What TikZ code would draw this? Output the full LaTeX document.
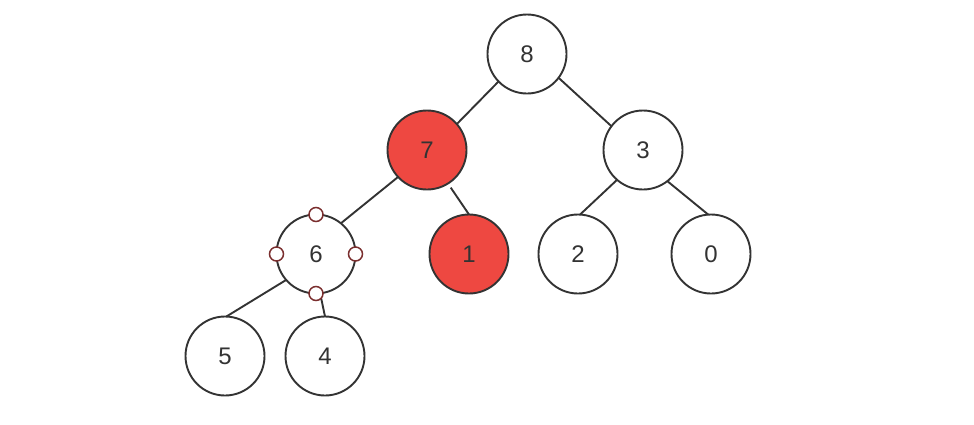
\documentclass[tikz,border=0pt]{standalone}
\usepackage{fontspec}
\setmainfont{Liberation Sans}
\definecolor{redfill}{HTML}{EE4841}
\definecolor{linegray}{HTML}{333333}
\definecolor{handle}{HTML}{7A2E2E}
\begin{document}
\begin{tikzpicture}[x=1pt,y=-1pt,
  tnode/.style={circle,draw=linegray,line width=1.9pt,fill=white,minimum size=79pt,inner sep=0pt,outer sep=0pt,font=\fontsize{24}{24}\selectfont,text=linegray},
  rnode/.style={tnode,fill=redfill},
  edge/.style={draw=linegray,line width=1.9pt},
  hnd/.style={circle,draw=handle,line width=1.5pt,fill=white,minimum size=14pt,inner sep=0pt}]
\useasboundingbox (0,0) rectangle (974,424);
\node[tnode] (n8) at (527,54) {8};
\node[rnode] (n7) at (427,150) {7};
\node[tnode] (n3) at (643,150) {3};
\node[tnode] (n6) at (316,254) {6};
\node[rnode] (n1) at (469,254) {1};
\node[tnode] (n2) at (578,254) {2};
\node[tnode] (n0) at (711,254) {0};
\node[tnode] (n5) at (225,356) {5};
\node[tnode] (n4) at (325,356) {4};
\draw[edge] (n8.224) -- (n7.41);
\draw[edge] (n8.323) -- (n3.143);
\draw[edge] (n7.223) -- (n6.51);
\draw[edge,shorten <=5pt] (n7.302) -- (n1.90);
\draw[edge] (n3.229) -- (n2.87);
\draw[edge] (n3.308) -- (n0.94);
\draw[edge] (n6.221) -- (n5.88);
\draw[edge] (n6.276) -- (n4.90);
\node[hnd] (h1) at (n6.north) {};
\node[hnd] (h2) at (n6.west) {};
\node[hnd] (h3) at (n6.east) {};
\node[hnd] (h4) at (n6.south) {};
\end{tikzpicture}
\end{document}
